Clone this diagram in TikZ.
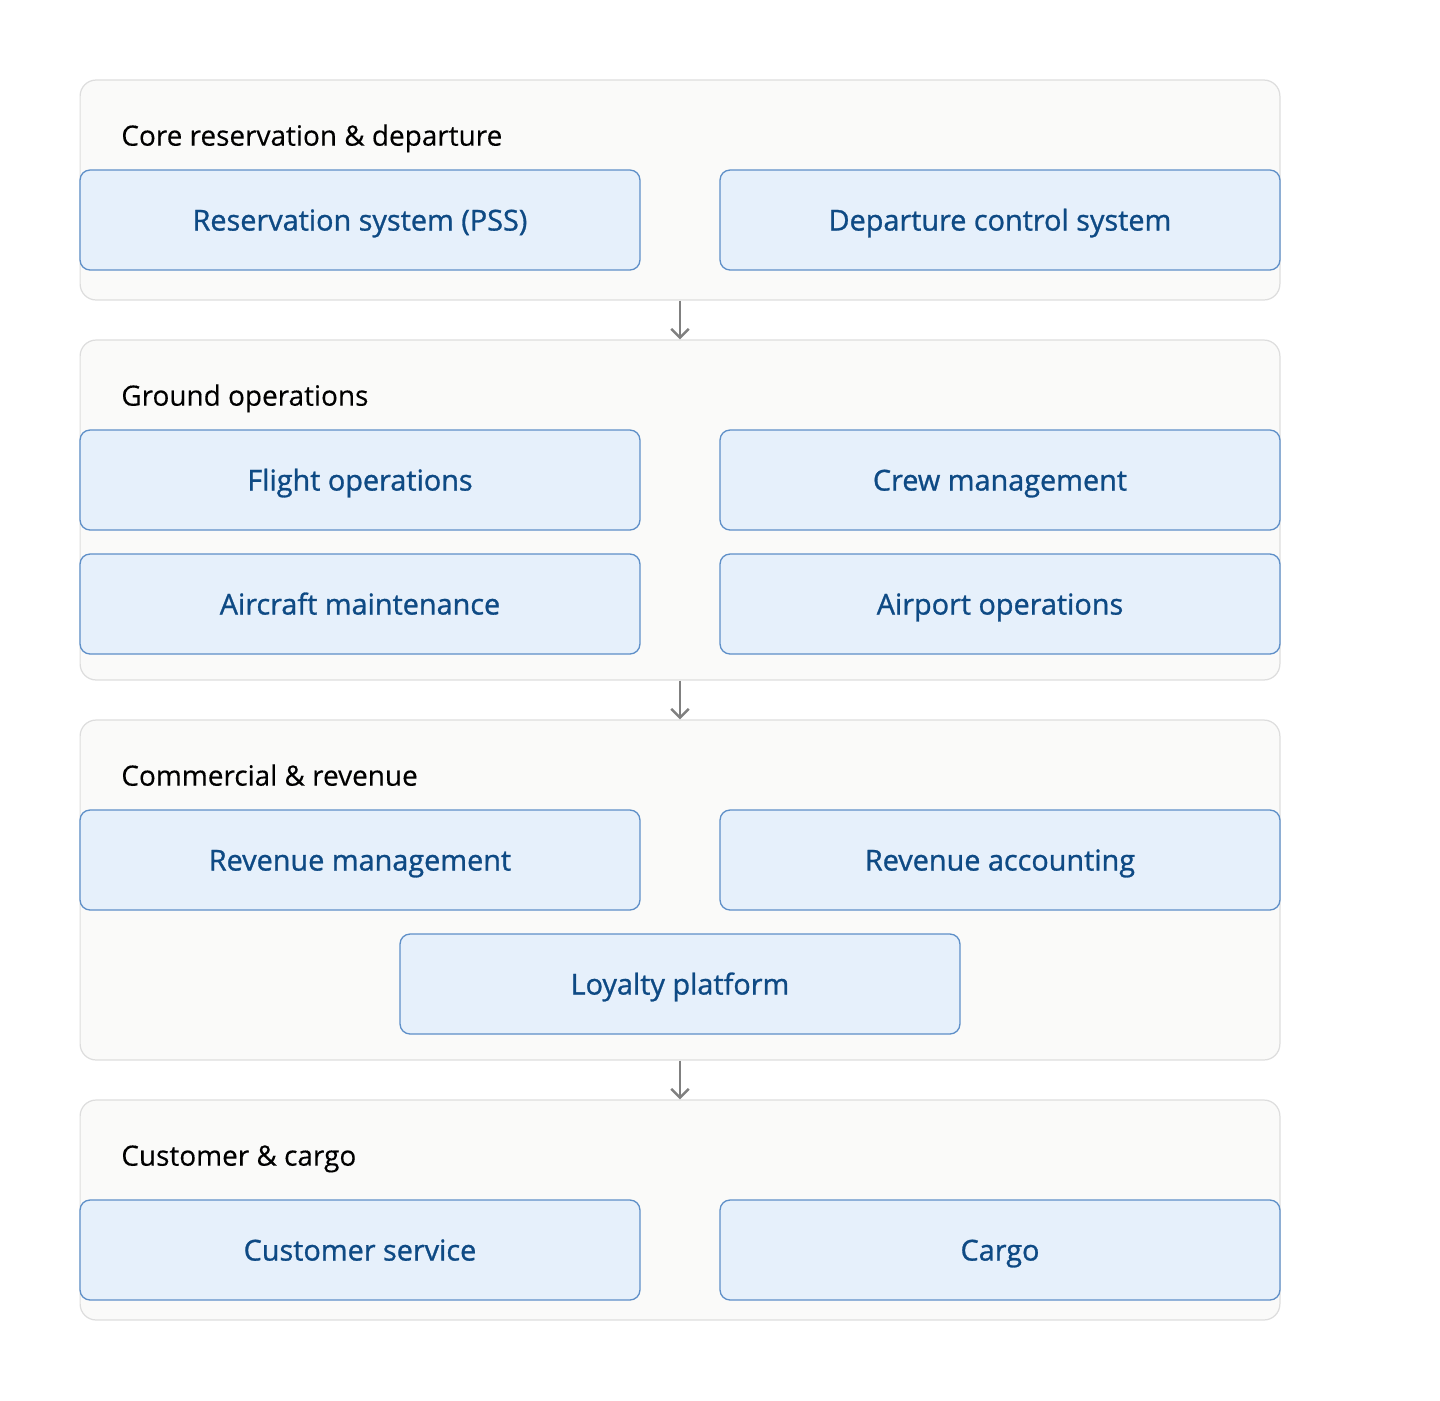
\documentclass[tikz,border=0pt]{standalone}
\usepackage{fontspec}
\setmainfont{Open Sans}
\newfontfamily\titlefont{Open Sans}[FakeBold=0.3]
\newfontfamily\sysfont{Open Sans}[FakeBold=1.0]
\usetikzlibrary{arrows.meta}
\definecolor{groupfill}{HTML}{FAFAF9}
\definecolor{groupline}{HTML}{DDDDDD}
\definecolor{boxfill}{HTML}{E6F0FB}
\definecolor{boxline}{HTML}{5E8FC8}
\definecolor{boxtext}{HTML}{0E4A84}
\definecolor{arrowgray}{HTML}{808080}
\begin{document}
\begin{tikzpicture}[x=0.02cm, y=-0.02cm,
    group/.style={draw=groupline, fill=groupfill, line width=0.7pt, rounded corners=0.32cm,
      minimum width=24cm, inner sep=0pt},
    grouptitle/.style={anchor=west, inner sep=0pt, text height=13pt, text depth=2pt,
      font=\titlefont\fontsize{15.9}{18}\selectfont, text=black},
    sysbox/.style={draw=boxline, fill=boxfill, line width=0.75pt, rounded corners=0.2cm,
      minimum width=11.2cm, minimum height=2cm, inner sep=0pt,
      text height=14pt, text depth=2pt,
      font=\sysfont\fontsize{16.4}{18}\selectfont, text=boxtext},
    flow/.style={draw=arrowgray, line width=1.4pt, -{Straight Barb[length=5pt, width=10pt]}}]
            \useasboundingbox (0,0) rectangle (1440,1400);

            % groups
            \node[group, minimum height=4.4cm] (core) at (680,190) {};
            \node[group, minimum height=6.8cm] (ground) at (680,510) {};
            \node[group, minimum height=6.8cm] (commercial) at (680,890) {};
            \node[group, minimum height=4.4cm] (customer) at (680,1210) {};

            \node[grouptitle] (coreT) at (121,136) {Core reservation \& departure};
            \node[grouptitle] (groundT) at (121,396) {Ground operations};
            \node[grouptitle] (commercialT) at (121,776) {Commercial \& revenue};
            \node[grouptitle] (customerT) at (121,1156) {Customer \& cargo};

            % systems
            \node[sysbox] (pss) at (360,220) {Reservation system (PSS)};
            \node[sysbox] (dcs) at (1000,220) {Departure control system};

            \node[sysbox] (flightops) at (360,480) {Flight operations};
            \node[sysbox] (crew) at (1000,480) {Crew management};
            \node[sysbox] (maint) at (360,604) {Aircraft maintenance};
            \node[sysbox] (airport) at (1000,604) {Airport operations};

            \node[sysbox] (revmgmt) at (360,860) {Revenue management};
            \node[sysbox] (revacc) at (1000,860) {Revenue accounting};
            \node[sysbox] (loyalty) at (680,984) {Loyalty platform};

            \node[sysbox] (custserv) at (360,1250) {Customer service};
            \node[sysbox] (cargo) at (1000,1250) {Cargo};

            \draw[flow] (core) -- (ground);
            \draw[flow] (ground) -- (commercial);
            \draw[flow] (commercial) -- (customer);
\end{tikzpicture}
\end{document}
